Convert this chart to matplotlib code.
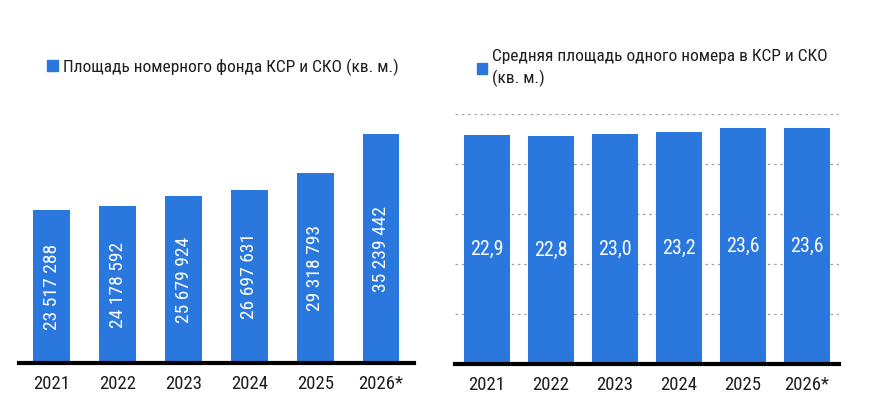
import matplotlib.pyplot as plt
from matplotlib.patches import Patch

years = ["2021", "2022", "2023", "2024", "2025", "2026*"]
area_total = [23517288, 24178592, 25679924, 26697631, 29318793, 35239442]
area_avg = [22.9, 22.8, 23.0, 23.2, 23.6, 23.6]

label_total = "Площадь номерного фонда КСР и СКО (кв. м.)"
label_avg = "Средняя площадь одного номера в КСР и СКО\n(кв. м.)"

blue = "#2A77DE"
dark = "#1E1E1E"

plt.rcParams['font.family'] = ['Roboto Condensed', 'PT Sans Narrow', 'DejaVu Sans']

fig = plt.figure(figsize=(8.75, 4.11), dpi=100)

# левый график
ax1 = fig.add_axes([0.0217, 0.1168, 0.4514, 0.640])
x = range(len(years))
ax1.bar(x, area_total, width=0.56, color=blue)
ax1.set_xlim(-0.5, 5.5)
ax1.set_ylim(0, 40.5e6)
for i, v in enumerate(area_total):
    s = f"{v:,}".replace(",", " ")
    ax1.text(i, v / 2, s, rotation=90, ha="center", va="center",
             color="white", fontsize=14)

# правый график
ax2 = fig.add_axes([0.52, 0.1144, 0.4389, 0.6083])
ax2.bar(x, area_avg, width=0.73, color=blue, zorder=2)
ax2.set_xlim(-0.5, 5.5)
ax2.set_ylim(0, 25)
ax2.set_yticks([5, 10, 15, 20, 25])
ax2.yaxis.grid(True, linestyle=(0, (2, 3)), color="#A0A0A0", linewidth=0.9, zorder=0)
for i, v in enumerate(area_avg):
    ax2.text(i, v / 2, f"{v:.1f}".replace(".", ","), ha="center", va="center",
             color="white", fontsize=14.5, zorder=3)

for ax in (ax1, ax2):
    ax.set_xticks(list(x))
    ax.set_xticklabels(years, fontsize=13.5, color=dark)
    ax.tick_params(axis="x", length=0, pad=9)
    ax.tick_params(axis="y", length=0, labelleft=False)
    for side in ("top", "right", "left"):
        ax.spines[side].set_visible(False)
    ax.spines["bottom"].set_linewidth(3)
    ax.spines["bottom"].set_color("black")
    ax.spines["bottom"].set_zorder(4)

fig.legend(handles=[Patch(color=blue, label=label_total)], loc="center left",
           bbox_to_anchor=(0.036, 0.837), frameon=False, fontsize=12.5,
           handlelength=0.6, handleheight=0.6, handletextpad=0.3, labelcolor=dark)
leg2 = fig.legend(handles=[Patch(color=blue, label=label_avg)], loc="center left",
                  bbox_to_anchor=(0.527, 0.834), frameon=False, fontsize=12.5,
                  handlelength=0.6, handleheight=0.6, handletextpad=0.3, labelcolor=dark)
leg2.get_texts()[0].set_linespacing(1.4)

fig.savefig("out.png", dpi=100)
